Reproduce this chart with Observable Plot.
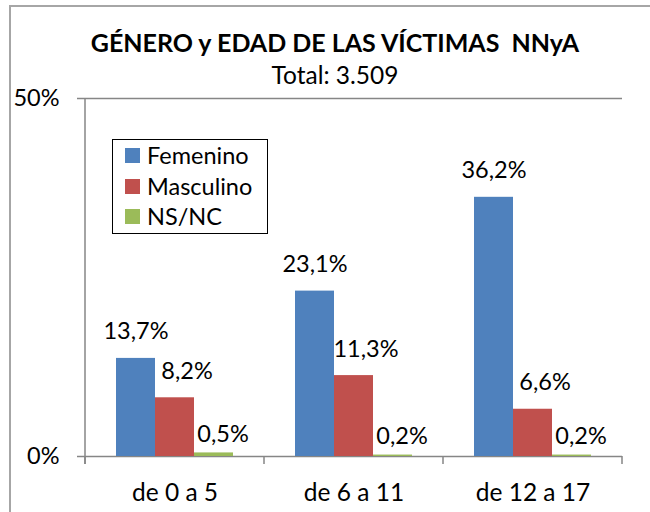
<!DOCTYPE html>
<html>
<head>
<meta charset="utf-8">
<script src="https://cdn.jsdelivr.net/npm/d3@7"></script>
<script src="https://cdn.jsdelivr.net/npm/@observablehq/plot@0.6"></script>
<style>
  html, body { margin: 0; padding: 0; background: #fff; }
  #chart { position: relative; width: 650px; height: 512px; overflow: hidden; font-family: Lato, sans-serif; }
  #frame { position: absolute; left: 9px; top: 5px; width: 700px; height: 600px;
           border-left: 2px solid #a6a6a6; border-top: 2px solid #a6a6a6; box-sizing: border-box; }
  #title { position: absolute; left: 35px; width: 600px; top: 27px; text-align: center;
           font-weight: bold; font-size: 25px; line-height: 30px; color: #000; }
  #subtitle { position: absolute; left: 35px; width: 600px; top: 60px; text-align: center;
           font-size: 24.5px; line-height: 30px; color: #000; }
  #legend { position: absolute; left: 112px; top: 139px; width: 156px; height: 95px;
            border: 1px solid #000; box-sizing: border-box; background: #fff; padding: 1px 0 0 12px; }
  .lg-swatch svg { margin-right: 7px !important; }
  .lg-swatch { padding-bottom: 1px; }
</style>
</head>
<body>
<div id="chart">
  <div id="frame"></div>
  <div id="title">GÉNERO y EDAD DE LAS VÍCTIMAS&nbsp; NNyA</div>
  <div id="subtitle">Total: 3.509</div>
</div>
<script>
const categories = ["de 0 a 5", "de 6 a 11", "de 12 a 17"];
const genders = ["Femenino", "Masculino", "NS/NC"];
const femenino = [13.7, 23.1, 36.2];
const masculino = [8.2, 11.3, 6.6];
const nsnc = [0.5, 0.2, 0.2];
const colors = ["#4F81BD", "#C0504D", "#9BBB59"];
const yTicks = [0, 50];

const seriesValues = [femenino, masculino, nsnc];
const data = [];
categories.forEach((c, i) => {
  genders.forEach((g, j) => data.push({cat: c, gender: g, value: seriesValues[j][i]}));
});
const fmt = v => v.toFixed(1).replace(".", ",") + "%";
const axisColor = "#868686";
const fs = 23.5;

// per-series label offsets (label placement as in the original)
const labelOffset = {"Femenino": [0, -19], "Masculino": [12, -19], "NS/NC": [9, -11]};

const plot = Plot.plot({
  width: 650,
  height: 512,
  marginTop: 98,
  marginBottom: 56,
  marginLeft: 84,
  marginRight: 28,
  style: {fontFamily: "Lato, sans-serif", fontSize: fs + "px", color: "#000", background: "transparent"},
  fx: {domain: categories, padding: 0, label: null},
  x: {domain: genders, paddingInner: 0, paddingOuter: 0.75, axis: null},
  y: {domain: [0, 50], axis: null},
  color: {domain: genders, range: colors},
  marks: [
    Plot.ruleY(yTicks, {stroke: axisColor, strokeWidth: 1.5}),
    Plot.barY(data, {fx: "cat", x: "gender", y: "value", fill: "gender"}),
    ...genders.map(g => Plot.text(data.filter(d => d.gender === g), {
      fx: "cat", x: "gender", y: "value", text: d => fmt(d.value),
      lineAnchor: "bottom", dx: labelOffset[g][0], dy: labelOffset[g][1],
      fill: "#000", fontSize: fs
    })),
    Plot.axisY({ticks: yTicks, tickFormat: d => d + "%", tickSize: 8, tickPadding: 18,
      stroke: axisColor, strokeWidth: 1.5, fill: "#000", fontSize: fs, label: null}),
    Plot.axisFx({anchor: "bottom", tickSize: 0, tickPadding: 27, label: null, fill: "#000", fontSize: 24.5})
  ]
});

// category boundary ticks and vertical axis line from the library's scales
const fxS = plot.scale("fx");
const yS = plot.scale("y");
const edges = categories.map(c => fxS.apply(c));
edges.push(fxS.apply(categories[categories.length - 1]) + fxS.bandwidth);
const svg = d3.select(plot);
const g = svg.append("g").attr("stroke", axisColor).attr("stroke-width", 1.5);
const y0 = yS.apply(0), y50 = yS.apply(50);
g.append("line").attr("x1", edges[0]).attr("x2", edges[0]).attr("y1", y50).attr("y2", y0 + 8);
edges.forEach(x => g.append("line").attr("x1", x).attr("x2", x).attr("y1", y0).attr("y2", y0 + 8));

const chart = document.getElementById("chart");
plot.style.position = "absolute";
plot.style.left = "0px";
plot.style.top = "0px";
chart.insertBefore(plot, document.getElementById("title"));

const legend = Plot.legend({
  color: {domain: genders, range: colors},
  legend: "swatches",
  columns: 1,
  swatchSize: 15,
  className: "lg",
  style: {fontFamily: "Lato, sans-serif", fontSize: "23.5px", lineHeight: "29.5px", color: "#000"}
});
const legendBox = document.createElement("div");
legendBox.id = "legend";
legendBox.appendChild(legend);
chart.appendChild(legendBox);
</script>
</body>
</html>
